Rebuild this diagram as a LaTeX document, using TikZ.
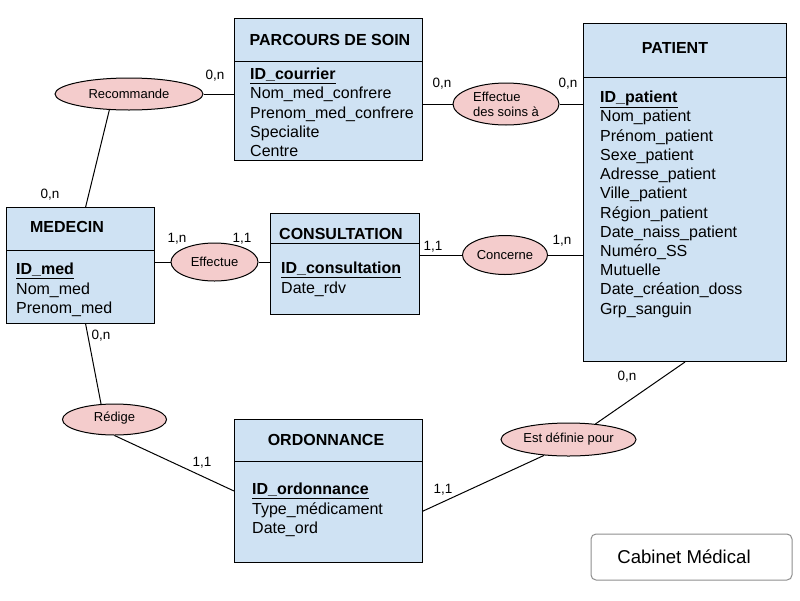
\documentclass[tikz,border=0pt]{standalone}
\usepackage{fontspec}
\setmainfont{Liberation Sans}
\usetikzlibrary{shapes.geometric,positioning}

\definecolor{entblue}{HTML}{CFE2F3}
\definecolor{assocpink}{HTML}{F4CCCC}
\definecolor{cabgrey}{HTML}{8E8E8E}

\tikzset{
  entity/.style={draw, fill=entblue, line width=1pt, anchor=north west, inner sep=0pt},
  enttitle/.style={font=\fontsize{16}{19.2}\selectfont\bfseries, inner sep=0pt},
  attrs/.style={anchor=north west, inner sep=0pt, align=left,
                font=\fontsize{16}{19.2}\selectfont},
  assoc/.style={draw, ellipse, fill=assocpink, line width=1pt, inner sep=0pt,
                font=\fontsize{13}{15}\selectfont},
  card/.style={font=\fontsize{13.5}{16}\selectfont, inner sep=0pt},
  link/.style={line width=1pt}
}
\newcommand{\idkey}[1]{\underline{\textbf{#1}}}

\begin{document}
\begin{tikzpicture}[x=1pt, y=-1pt]
  \useasboundingbox (0,0) rectangle (800,600);

  % entites
  \node[entity, minimum width=188pt, minimum height=142pt] (parcours) at (234,18) {};
  \node[entity, minimum width=203pt, minimum height=338pt] (patient) at (583,23) {};
  \node[entity, minimum width=148pt, minimum height=116pt] (med) at (6,207) {};
  \node[entity, minimum width=149pt, minimum height=101pt] (consult) at (270,213) {};
  \node[entity, minimum width=188pt, minimum height=143pt] (ord) at (234,419) {};

  \draw[link] ([yshift=-43pt]parcours.north west) -- ([yshift=-43pt]parcours.north east);
  \draw[link] ([yshift=-54pt]patient.north west) -- ([yshift=-54pt]patient.north east);
  \draw[link] ([yshift=-43pt]med.north west) -- ([yshift=-43pt]med.north east);
  \draw[link] ([yshift=-30pt]consult.north west) -- ([yshift=-30pt]consult.north east);
  \draw[link] ([yshift=-42pt]ord.north west) -- ([yshift=-42pt]ord.north east);

  \node[enttitle] (parcoursT) at (330,40) {PARCOURS DE SOIN};
  \node[enttitle] (patientT) at (675,48) {PATIENT};
  \node[enttitle] (medT) at (67,227) {MEDECIN};
  \node[enttitle] (consultT) at (341,234) {CONSULTATION};
  \node[enttitle] (ordT) at (326,440) {ORDONNANCE};

  \node[attrs] (parcoursA) at (250,68) {\idkey{ID\_courrier}\\Nom\_med\_confrere\\
    Prenom\_med\_confrere\\Specialite\\Centre};
  \node[attrs] (patientA) at (600,91) {\idkey{ID\_patient}\\Nom\_patient\\Prénom\_patient\\
    Sexe\_patient\\Adresse\_patient\\Ville\_patient\\Région\_patient\\
    Date\_naiss\_patient\\Numéro\_SS\\Mutuelle\\Date\_création\_doss\\Grp\_sanguin};
  \node[attrs] (medA) at (16,263) {\idkey{ID\_med}\\Nom\_med\\Prenom\_med};
  \node[attrs] (consultA) at (281,262) {\idkey{ID\_consultation}\\Date\_rdv};
  \node[attrs] (ordA) at (252,483) {\idkey{ID\_ordonnance}\\Type\_médicament\\Date\_ord};

  % associations
  \node[assoc, minimum width=148pt, minimum height=32pt] (recommande) at (129,94) {Recommande};
  \node[assoc, minimum width=106pt, minimum height=42pt, align=left] (soins) at (506,104)
    {Effectue\\des soins à};
  \node[assoc, minimum width=87pt, minimum height=38pt] (effectue) at (214.5,262) {Effectue};
  \node[assoc, minimum width=85pt, minimum height=39pt] (concerne) at (505,255) {Concerne};
  \node[assoc, minimum width=104pt, minimum height=31pt] (redige) at (114.5,419.5)
    {\raisebox{6pt}{Rédige}};
  \node[assoc, minimum width=135pt, minimum height=33pt] (defpour) at (568.5,439.5)
    {Est définie pour};

  % liens
  \draw[link] (recommande.219) -- (med.85);
  \draw[link] (recommande.east) -- (recommande -| parcours.west);
  \draw[link] (parcours.east |- soins) -- (soins.west);
  \draw[link] (soins.east) -- (soins -| patient.west);
  \draw[link] (med.east |- effectue) -- (effectue.west);
  \draw[link] (effectue.east) -- (effectue -| consult.west);
  \draw[link] (consult.east |- concerne) -- (concerne.west);
  \draw[link] (concerne.east) -- (concerne -| patient.west);
  \draw[link] (med.-85) -- (redige.131);
  \draw[link] (redige.south) -- (ord.west);
  \draw[link] (ord.-12) -- (defpour.213);
  \draw[link] (defpour.30) -- (patient.south);

  % cardinalites
  \node[card] (c1) at (215,76) {0,n};
  \node[card] (c2) at (50,195) {0,n};
  \node[card] (c3) at (442,84) {0,n};
  \node[card] (c4) at (568,84) {0,n};
  \node[card] (c5) at (177,239) {1,n};
  \node[card] (c6) at (242,239) {1,1};
  \node[card] (c7) at (433,247) {1,1};
  \node[card] (c8) at (562,241) {1,n};
  \node[card] (c9) at (101,336) {0,n};
  \node[card] (c10) at (202,463) {1,1};
  \node[card] (c11) at (443,490) {1,1};
  \node[card] (c12) at (627,377) {0,n};

  \node[draw=cabgrey, line width=1pt, rounded corners=5pt, minimum width=201pt,
        minimum height=46pt] (cabinet) at (691.5,557) {};
  \node[font=\fontsize{18.6}{22}\selectfont, inner sep=0pt] (cabinetT) at (684,557)
    {Cabinet Médical};
\end{tikzpicture}
\end{document}
